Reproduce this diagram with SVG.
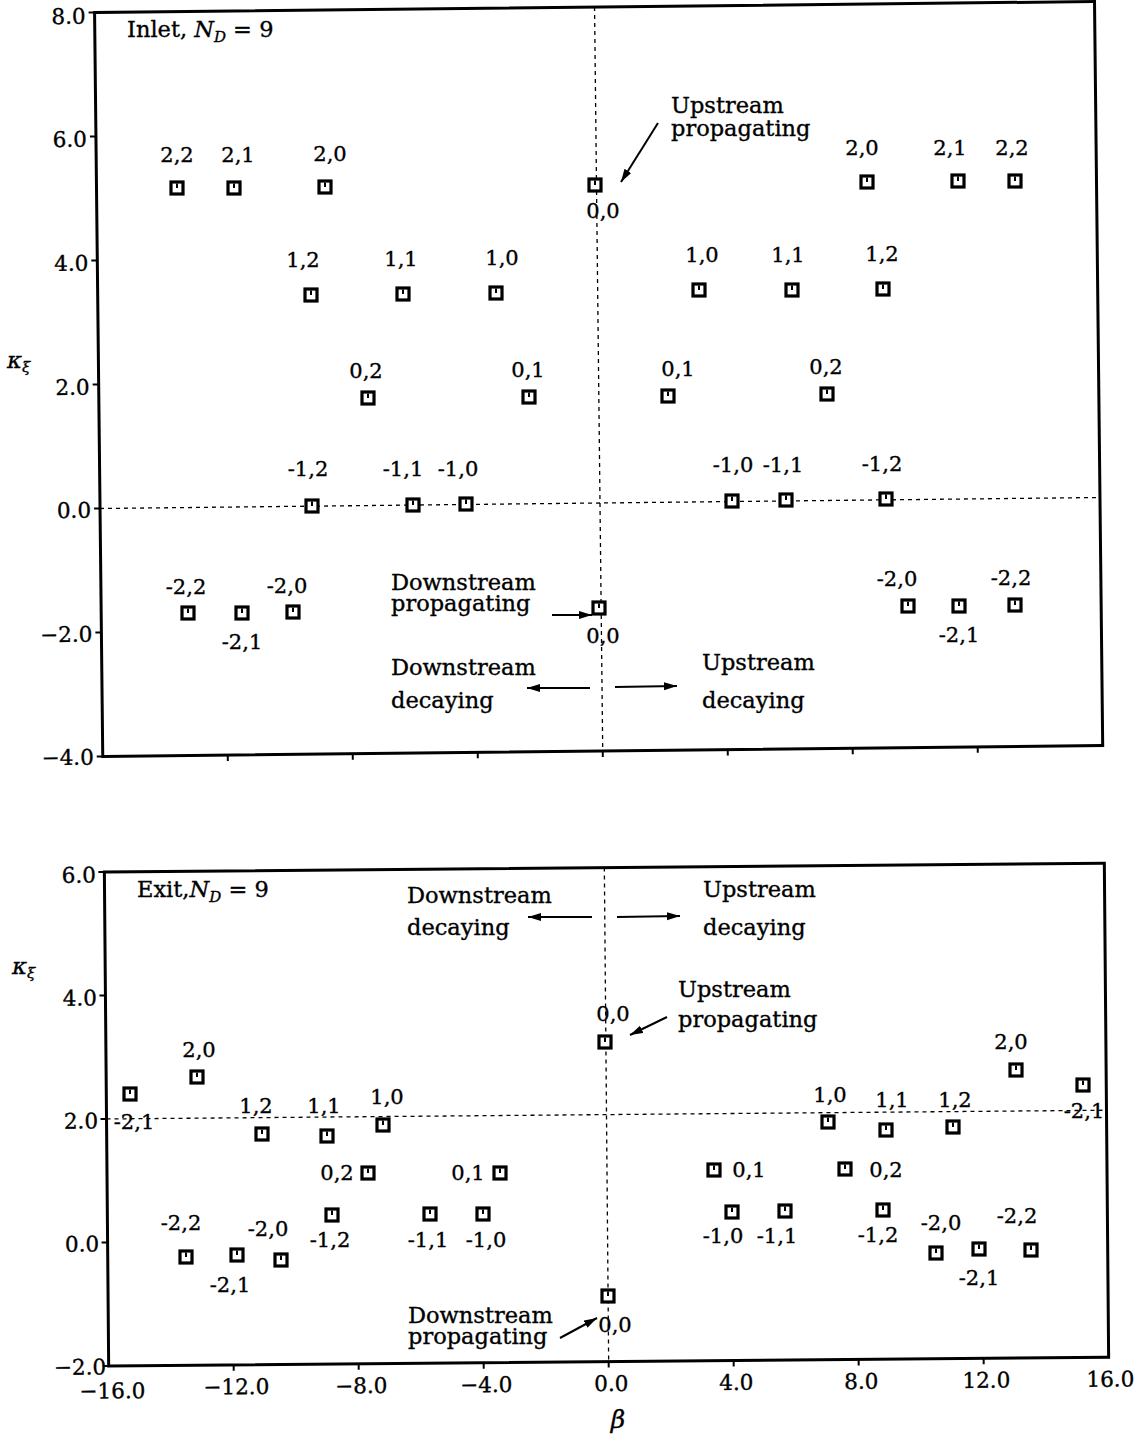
<svg xmlns="http://www.w3.org/2000/svg" width="1139" height="1439" viewBox="0 0 1139 1439">
<style>
.fr{fill:none;stroke:#000;stroke-width:3}
.tk{stroke:#000;stroke-width:2}
.dash{stroke:#000;stroke-width:1.3;stroke-dasharray:4 4;fill:none}
.ar{stroke:#000;stroke-width:2;fill:none;marker-end:url(#ah)}
text{font-family:"DejaVu Serif",serif;fill:#000;stroke:#000;stroke-width:0.35}
.lb{font-size:21px;text-anchor:middle}
.an{font-size:22.5px}
.yt{font-size:21.5px;text-anchor:end}
.xt{font-size:21.5px;text-anchor:middle}
.it{font-style:italic}
</style>
<defs>
<marker id="ah" markerUnits="userSpaceOnUse" markerWidth="14" markerHeight="10" refX="13" refY="4" orient="auto">
<path d="M0,0 L13,4 L0,8 z" fill="#000"/>
</marker>
<g id="m"><rect x="-6" y="-6" width="12" height="12" fill="#fff" stroke="#000" stroke-width="3.2"/><line x1="0" y1="-4.5" x2="0" y2="0" stroke="#000" stroke-width="2"/></g>
</defs>
<rect width="1139" height="1439" fill="#fff"/>

<!-- Top panel axes -->
<g id="axes-top" transform="rotate(-0.63 600 503)">
<rect class="fr" x="100" y="7" width="1000" height="744"/>
<path class="tk" d="M94,7H100M94,131H100M94,255H100M94,379H100M94,503H100M94,627H100M94,751H100"/>
<path class="tk" d="M225,751V757M350,751V757M475,751V757M600,751V757M725,751V757M850,751V757M975,751V757"/>
<line class="dash" x1="100" y1="503" x2="1100" y2="503"/>
<line class="dash" x1="600" y1="7" x2="600" y2="751"/>
<text class="yt" x="91" y="18">8.0</text>
<text class="yt" x="91" y="141">6.0</text>
<text class="yt" x="91" y="265">4.0</text>
<text class="yt" x="91" y="389">2.0</text>
<text class="yt" x="91" y="512">0.0</text>
<text class="yt" x="91" y="636">−2.0</text>
<text class="yt" x="91" y="759">−4.0</text>
</g>
<text x="127" y="37" font-size="22.5">Inlet, <tspan class="it">N</tspan><tspan class="it" font-size="15" dy="5">D</tspan><tspan dy="-5"> = 9</tspan></text>
<text x="7" y="368" font-size="23" class="it">κ<tspan font-size="15" dy="4">ξ</tspan></text>

<!-- Bottom panel axes -->
<g id="axes-bottom" transform="rotate(-0.5 606.5 1114.6)">
<rect class="fr" x="106.5" y="867.6" width="1000" height="494"/>
<path class="tk" d="M100.5,867.6H106.5M100.5,991.1H106.5M100.5,1114.6H106.5M100.5,1238.1H106.5M100.5,1361.6H106.5"/>
<path class="tk" d="M231.5,1361.6V1367.6M356.5,1361.6V1367.6M481.5,1361.6V1367.6M606.5,1361.6V1367.6M731.5,1361.6V1367.6M856.5,1361.6V1367.6M981.5,1361.6V1367.6"/>
<line class="dash" x1="106.5" y1="1114.6" x2="1106.5" y2="1114.6"/>
<line class="dash" x1="606.5" y1="867.6" x2="606.5" y2="1361.6"/>
<text class="yt" x="98" y="878">6.0</text>
<text class="yt" x="98" y="1001">4.0</text>
<text class="yt" x="98" y="1124">2.0</text>
<text class="yt" x="98" y="1247">0.0</text>
<text class="yt" x="104" y="1370">−2.0</text>
<text class="xt" x="110" y="1394">−16.0</text>
<text class="xt" x="234" y="1391">−12.0</text>
<text class="xt" x="359" y="1391">−8.0</text>
<text class="xt" x="484" y="1391">−4.0</text>
<text class="xt" x="609" y="1391">0.0</text>
<text class="xt" x="734" y="1391">4.0</text>
<text class="xt" x="859" y="1391">8.0</text>
<text class="xt" x="984" y="1391">12.0</text>
<text class="xt" x="1108" y="1391">16.0</text>
</g>
<text x="137" y="897" font-size="22.5">Exit,<tspan class="it">N</tspan><tspan class="it" font-size="15" dy="5">D</tspan><tspan dy="-5"> = 9</tspan></text>
<text x="12" y="974" font-size="23" class="it">κ<tspan font-size="15" dy="4">ξ</tspan></text>
<text x="618" y="1428" font-size="25" class="it" text-anchor="middle">β</text>

<!-- Top panel nodes -->
<g id="t-2-2"><use href="#m" x="177" y="188"/><text class="lb" x="177" y="162">2,2</text></g>
<g id="t-2-1"><use href="#m" x="234" y="188"/><text class="lb" x="238" y="162">2,1</text></g>
<g id="t-2-0"><use href="#m" x="325" y="187"/><text class="lb" x="330" y="161">2,0</text></g>
<g id="t-1-2"><use href="#m" x="311" y="295"/><text class="lb" x="303" y="267">1,2</text></g>
<g id="t-1-1"><use href="#m" x="403" y="294"/><text class="lb" x="401" y="266">1,1</text></g>
<g id="t-1-0"><use href="#m" x="496" y="293"/><text class="lb" x="502" y="265">1,0</text></g>
<g id="t-0-0u"><use href="#m" x="595" y="185"/><text class="lb" x="603" y="218">0,0</text></g>
<g id="t-2-0R"><use href="#m" x="867" y="182"/><text class="lb" x="862" y="155">2,0</text></g>
<g id="t-2-1R"><use href="#m" x="958" y="181"/><text class="lb" x="950" y="155">2,1</text></g>
<g id="t-2-2R"><use href="#m" x="1015" y="181"/><text class="lb" x="1012" y="155">2,2</text></g>
<g id="t-1-0R"><use href="#m" x="699" y="290"/><text class="lb" x="702" y="262">1,0</text></g>
<g id="t-1-1R"><use href="#m" x="792" y="290"/><text class="lb" x="788" y="262">1,1</text></g>
<g id="t-1-2R"><use href="#m" x="883" y="289"/><text class="lb" x="882" y="261">1,2</text></g>
<g id="t-0-2"><use href="#m" x="368" y="398"/><text class="lb" x="366" y="378">0,2</text></g>
<g id="t-0-1"><use href="#m" x="529" y="397"/><text class="lb" x="528" y="377">0,1</text></g>
<g id="t-0-1R"><use href="#m" x="668" y="396"/><text class="lb" x="678" y="376">0,1</text></g>
<g id="t-0-2R"><use href="#m" x="827" y="394"/><text class="lb" x="826" y="374">0,2</text></g>
<g id="t-m1-2"><use href="#m" x="312" y="506"/><text class="lb" x="308" y="476">-1,2</text></g>
<g id="t-m1-1"><use href="#m" x="413" y="505"/><text class="lb" x="403" y="476">-1,1</text></g>
<g id="t-m1-0"><use href="#m" x="466" y="504"/><text class="lb" x="458" y="476">-1,0</text></g>
<g id="t-m1-0R"><use href="#m" x="732" y="501"/><text class="lb" x="733" y="472">-1,0</text></g>
<g id="t-m1-1R"><use href="#m" x="786" y="500"/><text class="lb" x="783" y="472">-1,1</text></g>
<g id="t-m1-2R"><use href="#m" x="886" y="499"/><text class="lb" x="882" y="471">-1,2</text></g>
<g id="t-m2-2"><use href="#m" x="188" y="613"/><text class="lb" x="186" y="594">-2,2</text></g>
<g id="t-m2-1"><use href="#m" x="242" y="613"/><text class="lb" x="242" y="649">-2,1</text></g>
<g id="t-m2-0"><use href="#m" x="293" y="612"/><text class="lb" x="287" y="593">-2,0</text></g>
<g id="t-0-0d"><use href="#m" x="599" y="608"/><text class="lb" x="603" y="643">0,0</text></g>
<g id="t-m2-0R"><use href="#m" x="908" y="606"/><text class="lb" x="897" y="586">-2,0</text></g>
<g id="t-m2-1R"><use href="#m" x="959" y="606"/><text class="lb" x="959" y="642">-2,1</text></g>
<g id="t-m2-2R"><use href="#m" x="1015" y="605"/><text class="lb" x="1011" y="585">-2,2</text></g>

<!-- Top annotations -->
<g id="t-ann-up-prop"><text class="an" x="671" y="113">Upstream</text><text class="an" x="671" y="136">propagating</text></g>
<g id="t-ann-dn-prop"><text class="an" x="391" y="590">Downstream</text><text class="an" x="391" y="611">propagating</text></g>
<g id="t-ann-dn-dec"><text class="an" x="391" y="675">Downstream</text><text class="an" x="391" y="708">decaying</text></g>
<g id="t-ann-up-dec"><text class="an" x="702" y="670">Upstream</text><text class="an" x="702" y="708">decaying</text></g>

<!-- Bottom panel nodes -->
<g id="b-m2-1L"><use href="#m" x="130" y="1094"/><text class="lb" x="134" y="1129">-2,1</text></g>
<g id="b-2-0"><use href="#m" x="197" y="1077"/><text class="lb" x="199" y="1057">2,0</text></g>
<g id="b-1-2"><use href="#m" x="262" y="1134"/><text class="lb" x="256" y="1113">1,2</text></g>
<g id="b-1-1"><use href="#m" x="327" y="1136"/><text class="lb" x="324" y="1113">1,1</text></g>
<g id="b-1-0"><use href="#m" x="383" y="1125"/><text class="lb" x="387" y="1104">1,0</text></g>
<g id="b-0-2"><use href="#m" x="368" y="1173"/><text class="lb" x="337" y="1180">0,2</text></g>
<g id="b-0-1"><use href="#m" x="500" y="1173"/><text class="lb" x="468" y="1180">0,1</text></g>
<g id="b-m1-2"><use href="#m" x="332" y="1215"/><text class="lb" x="330" y="1247">-1,2</text></g>
<g id="b-m1-1"><use href="#m" x="430" y="1214"/><text class="lb" x="428" y="1247">-1,1</text></g>
<g id="b-m1-0"><use href="#m" x="483" y="1214"/><text class="lb" x="486" y="1247">-1,0</text></g>
<g id="b-m2-2"><use href="#m" x="186" y="1257"/><text class="lb" x="181" y="1230">-2,2</text></g>
<g id="b-m2-1"><use href="#m" x="237" y="1255"/><text class="lb" x="230" y="1292">-2,1</text></g>
<g id="b-m2-0"><use href="#m" x="281" y="1260"/><text class="lb" x="268" y="1236">-2,0</text></g>
<g id="b-0-0u"><use href="#m" x="605" y="1042"/><text class="lb" x="613" y="1021">0,0</text></g>
<g id="b-0-0d"><use href="#m" x="608" y="1296"/><text class="lb" x="615" y="1332">0,0</text></g>
<g id="b-0-1R"><use href="#m" x="714" y="1170"/><text class="lb" x="749" y="1177">0,1</text></g>
<g id="b-0-2R"><use href="#m" x="845" y="1169"/><text class="lb" x="886" y="1177">0,2</text></g>
<g id="b-m1-0R"><use href="#m" x="732" y="1212"/><text class="lb" x="723" y="1243">-1,0</text></g>
<g id="b-m1-1R"><use href="#m" x="785" y="1211"/><text class="lb" x="777" y="1243">-1,1</text></g>
<g id="b-m1-2R"><use href="#m" x="883" y="1210"/><text class="lb" x="878" y="1242">-1,2</text></g>
<g id="b-m2-0R"><use href="#m" x="936" y="1253"/><text class="lb" x="941" y="1230">-2,0</text></g>
<g id="b-m2-1R"><use href="#m" x="979" y="1249"/><text class="lb" x="979" y="1285">-2,1</text></g>
<g id="b-m2-2R"><use href="#m" x="1031" y="1250"/><text class="lb" x="1017" y="1223">-2,2</text></g>
<g id="b-1-0R"><use href="#m" x="828" y="1122"/><text class="lb" x="830" y="1102">1,0</text></g>
<g id="b-1-1R"><use href="#m" x="886" y="1130"/><text class="lb" x="892" y="1107">1,1</text></g>
<g id="b-1-2R"><use href="#m" x="953" y="1127"/><text class="lb" x="955" y="1107">1,2</text></g>
<g id="b-2-0R"><use href="#m" x="1016" y="1070"/><text class="lb" x="1011" y="1049">2,0</text></g>
<g id="b-m2-1R2"><use href="#m" x="1083" y="1085"/><text class="lb" x="1084" y="1118">-2,1</text></g>

<!-- Bottom annotations -->
<g id="b-ann-dn-dec"><text class="an" x="407" y="903">Downstream</text><text class="an" x="407" y="935">decaying</text></g>
<g id="b-ann-up-dec"><text class="an" x="703" y="897">Upstream</text><text class="an" x="703" y="935">decaying</text></g>
<g id="b-ann-up-prop"><text class="an" x="678" y="997">Upstream</text><text class="an" x="678" y="1027">propagating</text></g>
<g id="b-ann-dn-prop"><text class="an" x="408" y="1323">Downstream</text><text class="an" x="408" y="1344">propagating</text></g>

<!-- Connectors -->
<g id="connectors">
<line class="ar" x1="658" y1="123" x2="621" y2="182"/>
<line class="ar" x1="552" y1="615" x2="592" y2="615"/>
<line class="ar" x1="590" y1="688" x2="527" y2="688"/>
<line class="ar" x1="615" y1="687" x2="677" y2="686"/>
<line class="ar" x1="592" y1="917" x2="528" y2="917"/>
<line class="ar" x1="617" y1="917" x2="680" y2="916"/>
<line class="ar" x1="667" y1="1017" x2="630" y2="1035"/>
<line class="ar" x1="560" y1="1338" x2="597" y2="1318"/>
</g>
</svg>
